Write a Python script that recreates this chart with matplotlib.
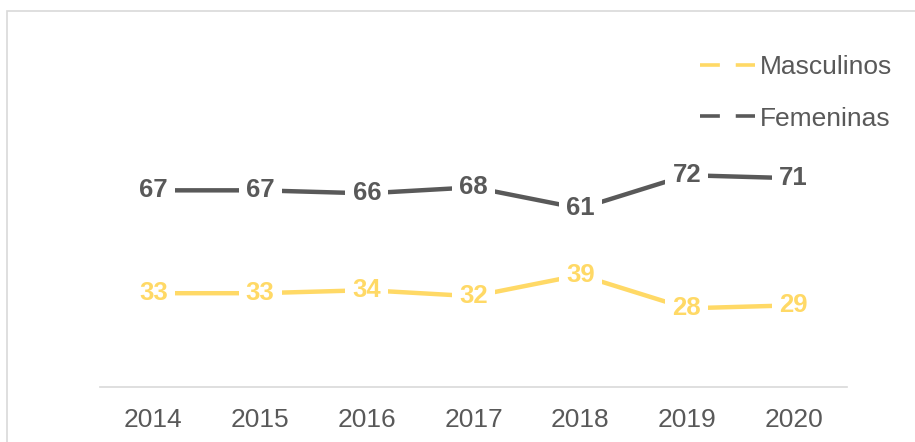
import matplotlib
matplotlib.use("Agg")
import matplotlib.pyplot as plt
from matplotlib.lines import Line2D
from matplotlib.patches import Rectangle

plt.rcParams['font.family'] = ['Liberation Sans', 'DejaVu Sans']

years = ['2014', '2015', '2016', '2017', '2018', '2019', '2020']
masculinos = [33, 33, 34, 32, 39, 28, 29]
femeninas = [67, 67, 66, 68, 61, 72, 71]

GOLD = '#FFD966'
GRAY = '#595959'
TEXT = '#595959'

W, H = 915, 442
fig = plt.figure(figsize=(W / 100, H / 100), dpi=100)

# light grey chart frame (only top and left edges are visible in the crop)
fig.patches.append(Rectangle((7 / W, -0.2), 2.0, 0.2 + (H - 11) / H,
                             transform=fig.transFigure, fill=False,
                             edgecolor='#D9D9D9', linewidth=1.2))

ax = fig.add_axes([100 / W, (H - 387) / H, 747 / W, 236 / H])
x = list(range(len(years)))

for vals, col in [(femeninas, GRAY), (masculinos, GOLD)]:
    ax.plot(x, vals, color=col, linewidth=3.2, solid_capstyle='butt', zorder=2)
    for xi, v in zip(x, vals):
        ax.text(xi, v, str(v), ha='center', va='center', fontsize=18.5,
                fontweight='bold', color=col, zorder=3,
                bbox=dict(boxstyle='square,pad=0.28', facecolor='white',
                          edgecolor='none'))

ax.set_xlim(-0.5, len(years) - 0.5)
ax.set_ylim(2, 80)
ax.set_xticks(x)
ax.set_xticklabels(years)
ax.set_yticks([])
ax.tick_params(axis='x', length=0, pad=15, labelsize=19, labelcolor=TEXT)
for s in ['top', 'right', 'left']:
    ax.spines[s].set_visible(False)
ax.spines['bottom'].set_color('#D9D9D9')
ax.spines['bottom'].set_linewidth(1.2)

handles = [
    Line2D([], [], color=GOLD, linewidth=2.6, dashes=(5.5, 4.4), dash_capstyle='butt'),
    Line2D([], [], color=GRAY, linewidth=2.6, dashes=(5.5, 4.4), dash_capstyle='butt'),
]
leg = fig.legend(handles, ['Masculinos', 'Femeninas'], loc='upper left',
                 bbox_to_anchor=(700 / W, (H - 55) / H), frameon=False,
                 fontsize=19, handlelength=2.1, handletextpad=0.15,
                 labelspacing=1.05, borderpad=0, borderaxespad=0)
for t in leg.get_texts():
    t.set_color(TEXT)

fig.savefig('out.png', dpi=100, facecolor='white')
